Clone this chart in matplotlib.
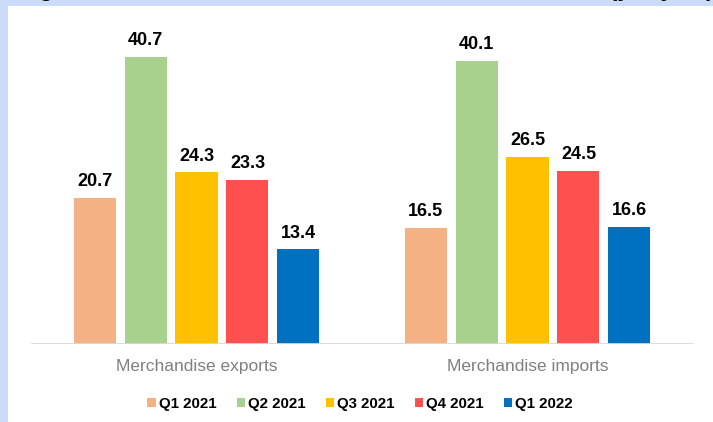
import numpy as np
import matplotlib
matplotlib.use('Agg')
import matplotlib.pyplot as plt
from matplotlib.patches import Rectangle

categories = ['Merchandise exports', 'Merchandise imports']
series = ['Q1 2021', 'Q2 2021', 'Q3 2021', 'Q4 2021', 'Q1 2022']
exports = [20.7, 40.7, 24.3, 23.3, 13.4]
imports = [16.5, 40.1, 26.5, 24.5, 16.6]
colors = ['#F4B183', '#A9D18E', '#FFC000', '#FF5050', '#0070C0']

plt.rcParams['font.family'] = ['Liberation Sans', 'DejaVu Sans']

W, H = 713, 422
fig = plt.figure(figsize=(W / 100, H / 100), dpi=100, facecolor='#cadcf9')

# white panel over the light blue page background
fig.patches.append(Rectangle((8 / W, 0), 1 - 8 / W, (H - 6) / H,
                             transform=fig.transFigure, facecolor='white',
                             edgecolor='none', zorder=-5))

# title, mostly cut off by the top edge (only the descenders show)
fig.text(18 / W, 1 + 4.5 / H,
         "Figure 13: Growth in India's total merchandise trade (y-o-y, %)",
         fontsize=17, fontweight='bold', va='baseline', ha='left', zorder=-4)

ax = fig.add_axes([31 / W, 78 / H, 662 / W, 317.7 / H])
ax.patch.set_alpha(0)

x = np.arange(len(categories))
step = 0.154
width = 0.127
vals = np.array([exports, imports])
for i, name in enumerate(series):
    pos = x + (i - 2) * step
    bars = ax.bar(pos, vals[:, i], width, color=colors[i], label=name, zorder=2)
    for b, v in zip(bars, vals[:, i]):
        ax.annotate(f'{v:.1f}', (b.get_x() + b.get_width() / 2, v),
                    xytext=(0, 5.5), textcoords='offset points',
                    ha='center', va='bottom', fontsize=13, fontweight='bold')

ax.axhline(0, color='#d9d9d9', lw=1.3, zorder=3)
ax.set_xlim(-0.5, 1.5)
ax.set_ylim(0, 45)
for s in ax.spines.values():
    s.set_visible(False)
ax.set_yticks([])
ax.set_xticks(x)
ax.set_xticklabels(categories, fontsize=12.5, color='#7f7f7f')
ax.tick_params(axis='x', length=0, pad=10.5)

fig.legend(loc='center', bbox_to_anchor=(360 / W, 18 / H), ncol=5, frameon=False,
           prop={'weight': 'bold', 'size': 10.8}, handlelength=0.55,
           handleheight=0.55, handletextpad=0.2, columnspacing=1.35)

fig.savefig('out.png', dpi=100, facecolor=fig.get_facecolor())
